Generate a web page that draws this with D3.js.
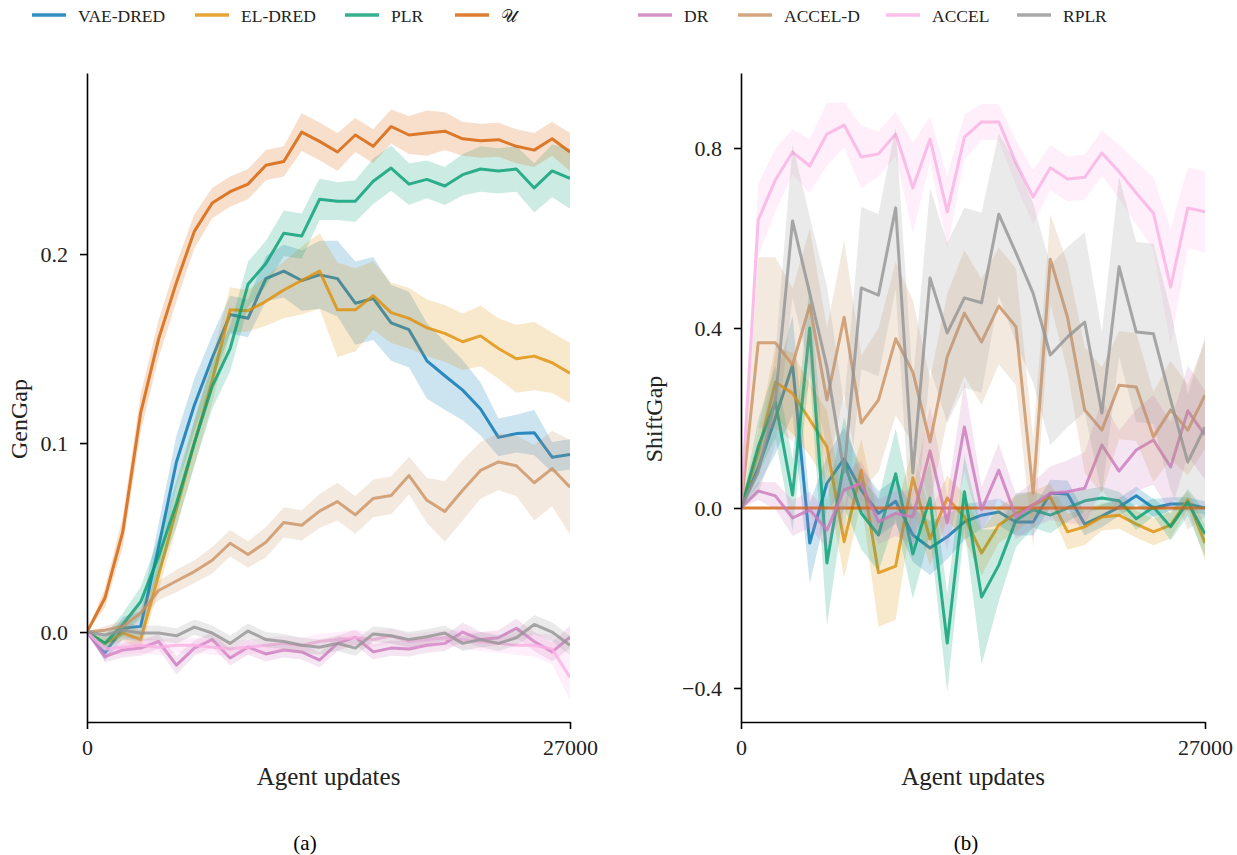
<!DOCTYPE html>
<html>
<head>
<meta charset="utf-8">
<script src="https://cdn.jsdelivr.net/npm/d3@7"></script>
<style>
  body { margin: 0; background: #fff; }
  svg { font-family: "Liberation Serif", "DejaVu Serif", serif; }
</style>
</head>
<body>
<svg id="chart" width="1237" height="855"></svg>
<script>
// agent updates (x)
const updates = [0, 1000, 2000, 3000, 4000, 5000, 6000, 7000, 8000, 9000, 10000, 11000, 12000, 13000,
  14000, 15000, 16000, 17000, 18000, 19000, 20000, 21000, 22000, 23000, 24000, 25000, 26000, 27000];

const names = ["VAE-DRED", "EL-DRED", "PLR", "𝒰", "DR", "ACCEL-D", "ACCEL", "RPLR"];
const colors = ["#0173b2", "#de8f05", "#029e73", "#d55e00", "#cc78bc", "#ca9161", "#fbafe4", "#949494"];

// ---- GenGap (a) ----
const genVAE = [0, -0.011, 0.002, 0.003, 0.045, 0.09, 0.12, 0.145, 0.168, 0.166, 0.187, 0.191, 0.186, 0.189, 0.187, 0.174, 0.1765, 0.1636, 0.160, 0.1435, 0.1356, 0.128, 0.118, 0.103, 0.105, 0.1055, 0.0925, 0.094];
const genVAEErr = [0, 0.004, 0.006, 0.008, 0.012, 0.014, 0.014, 0.012, 0.01, 0.01, 0.012, 0.014, 0.016, 0.018, 0.02, 0.022, 0.022, 0.02, 0.02, 0.02, 0.018, 0.016, 0.014, 0.01, 0.01, 0.012, 0.008, 0.008];
const genEL = [0, -0.006, -0.0005, -0.004, 0.03, 0.065, 0.10, 0.133, 0.1705, 0.170, 0.175, 0.181, 0.186, 0.191, 0.1705, 0.1705, 0.178, 0.169, 0.166, 0.161, 0.158, 0.1536, 0.1567, 0.150, 0.1446, 0.146, 0.1425, 0.137];
const genELErr = [0, 0.003, 0.004, 0.005, 0.008, 0.01, 0.012, 0.012, 0.012, 0.011, 0.013, 0.015, 0.018, 0.02, 0.025, 0.022, 0.018, 0.016, 0.016, 0.015, 0.015, 0.015, 0.016, 0.016, 0.018, 0.018, 0.016, 0.016];
const genPLR = [0, -0.006, 0.004, 0.016, 0.04, 0.068, 0.1, 0.13, 0.15, 0.184, 0.195, 0.211, 0.2095, 0.229, 0.228, 0.228, 0.2385, 0.2455, 0.237, 0.2395, 0.236, 0.242, 0.245, 0.244, 0.245, 0.235, 0.244, 0.240];
const genPLRErr = [0, 0.004, 0.006, 0.008, 0.01, 0.012, 0.012, 0.012, 0.012, 0.012, 0.012, 0.012, 0.012, 0.011, 0.01, 0.011, 0.012, 0.012, 0.011, 0.01, 0.01, 0.011, 0.012, 0.012, 0.012, 0.013, 0.014, 0.016];
const genU = [0, 0.018, 0.053, 0.116, 0.155, 0.185, 0.212, 0.227, 0.233, 0.237, 0.247, 0.249, 0.2645, 0.2596, 0.254, 0.263, 0.257, 0.2675, 0.263, 0.264, 0.265, 0.261, 0.260, 0.2605, 0.257, 0.255, 0.261, 0.254];
const genUErr = [0, 0.005, 0.008, 0.01, 0.01, 0.01, 0.009, 0.008, 0.008, 0.008, 0.008, 0.008, 0.01, 0.01, 0.01, 0.009, 0.009, 0.009, 0.01, 0.012, 0.01, 0.009, 0.009, 0.009, 0.009, 0.009, 0.009, 0.01];
const genDR = [0, -0.013, -0.0095, -0.0085, -0.005, -0.0175, -0.0085, -0.004, -0.0137, -0.008, -0.0116, -0.0095, -0.0105, -0.0148, -0.006, -0.0027, -0.0105, -0.0085, -0.009, -0.007, -0.006, 0.0, -0.004, -0.003, 0.002, -0.005, -0.0105, -0.0027];
const genDRErr = [0, 0.003, 0.004, 0.004, 0.004, 0.005, 0.004, 0.004, 0.004, 0.004, 0.004, 0.004, 0.004, 0.004, 0.004, 0.004, 0.004, 0.004, 0.004, 0.004, 0.004, 0.005, 0.004, 0.004, 0.005, 0.005, 0.005, 0.006];
const genACCELD = [0, 0.001, 0.003, 0.010, 0.022, 0.027, 0.032, 0.038, 0.047, 0.041, 0.0475, 0.058, 0.0565, 0.064, 0.069, 0.062, 0.0707, 0.0723, 0.0828, 0.0697, 0.0638, 0.075, 0.0855, 0.090, 0.088, 0.079, 0.0865, 0.0766];
const genACCELDErr = [0, 0.002, 0.003, 0.004, 0.005, 0.006, 0.006, 0.007, 0.007, 0.007, 0.008, 0.008, 0.008, 0.009, 0.01, 0.01, 0.01, 0.01, 0.01, 0.012, 0.016, 0.016, 0.015, 0.015, 0.016, 0.02, 0.02, 0.025];
const genACCEL = [0, -0.009, -0.008, -0.007, -0.008, -0.007, -0.007, -0.008, -0.009, -0.008, -0.007, -0.006, -0.007, -0.005, -0.004, -0.003, -0.004, -0.002, -0.005, -0.004, -0.003, -0.004, -0.005, -0.006, -0.007, -0.007, -0.009, -0.024];
const genACCELErr = [0, 0.003, 0.004, 0.004, 0.004, 0.004, 0.004, 0.004, 0.004, 0.004, 0.004, 0.004, 0.004, 0.004, 0.004, 0.004, 0.004, 0.004, 0.004, 0.004, 0.004, 0.005, 0.005, 0.005, 0.005, 0.006, 0.008, 0.012];
const genRPLR = [0, -0.0016, 0.001, -0.0005, -0.0005, -0.002, 0.0026, -0.0005, -0.006, 0.0005, -0.004, -0.005, -0.007, -0.008, -0.006, -0.0085, -0.001, -0.002, -0.004, -0.0025, -0.0005, -0.006, -0.004, -0.006, -0.003, 0.004, 0.0, -0.007];
const genRPLRErr = [0, 0.003, 0.004, 0.004, 0.004, 0.004, 0.004, 0.004, 0.004, 0.004, 0.004, 0.004, 0.004, 0.004, 0.004, 0.004, 0.004, 0.004, 0.004, 0.004, 0.004, 0.004, 0.004, 0.004, 0.004, 0.005, 0.005, 0.005];

// ---- ShiftGap (b) ----
const shiftVAE = [0, 0.089, 0.2, 0.318, -0.078, 0.055, 0.109, 0.04, -0.012, 0.015, -0.06, -0.089, -0.064, -0.031, -0.016, -0.009, -0.031, -0.031, 0.033, 0.031, -0.036, -0.018, 0.002, 0.027, 0.0, 0.009, 0.009, 0.0];
const shiftVAEErr = [0, 0.04, 0.08, 0.11, 0.09, 0.06, 0.07, 0.05, 0.05, 0.05, 0.06, 0.06, 0.05, 0.04, 0.03, 0.03, 0.03, 0.03, 0.03, 0.03, 0.025, 0.025, 0.02, 0.02, 0.02, 0.015, 0.015, 0.015];
const shiftEL = [0, 0.122, 0.28, 0.255, 0.196, 0.136, -0.075, 0.084, -0.144, -0.129, 0.067, -0.069, 0.022, -0.02, -0.1, -0.038, -0.012, 0.007, 0.024, -0.053, -0.042, -0.02, -0.016, -0.036, -0.053, -0.038, 0.018, -0.078];
const shiftELErr = [0, 0.05, 0.08, 0.09, 0.08, 0.08, 0.08, 0.07, 0.12, 0.12, 0.07, 0.06, 0.05, 0.05, 0.05, 0.04, 0.04, 0.03, 0.03, 0.04, 0.04, 0.03, 0.03, 0.03, 0.03, 0.03, 0.02, 0.04];
const shiftPLR = [0, 0.136, 0.236, 0.029, 0.40, -0.122, 0.102, -0.012, -0.06, 0.076, -0.102, 0.022, -0.3, 0.036, -0.198, -0.127, -0.027, -0.004, -0.016, 0.0, 0.016, 0.022, 0.016, -0.024, 0.002, -0.042, 0.013, -0.058];
const shiftPLRErr = [0, 0.06, 0.08, 0.08, 0.1, 0.14, 0.1, 0.08, 0.08, 0.1, 0.1, 0.08, 0.11, 0.08, 0.15, 0.08, 0.06, 0.04, 0.04, 0.03, 0.025, 0.025, 0.02, 0.025, 0.02, 0.03, 0.03, 0.05];
const shiftU = [0, 0, 0, 0, 0, 0, 0, 0, 0, 0, 0, 0, 0, 0, 0, 0, 0, 0, 0, 0, 0, 0, 0, 0, 0, 0, 0, 0];
const shiftUErr = [0, 0, 0, 0, 0, 0, 0, 0, 0, 0, 0, 0, 0, 0, 0, 0, 0, 0, 0, 0, 0, 0, 0, 0, 0, 0, 0, 0];
const shiftDR = [0, 0.038, 0.027, -0.022, -0.004, -0.049, 0.04, 0.055, -0.031, -0.012, -0.02, 0.127, -0.033, 0.18, -0.004, 0.084, -0.02, 0.007, 0.033, 0.036, 0.044, 0.14, 0.082, 0.129, 0.151, 0.091, 0.216, 0.162];
const shiftDRErr = [0, 0.02, 0.03, 0.04, 0.04, 0.04, 0.04, 0.05, 0.05, 0.05, 0.06, 0.1, 0.06, 0.1, 0.05, 0.06, 0.05, 0.05, 0.06, 0.07, 0.08, 0.1, 0.09, 0.09, 0.1, 0.1, 0.1, 0.1];
const shiftACCELD = [0, 0.367, 0.367, 0.318, 0.451, 0.24, 0.424, 0.189, 0.24, 0.376, 0.302, 0.147, 0.336, 0.433, 0.369, 0.449, 0.403, 0.033, 0.553, 0.424, 0.218, 0.173, 0.273, 0.269, 0.158, 0.218, 0.173, 0.251];
const shiftACCELDErr = [0, 0.19, 0.19, 0.17, 0.17, 0.16, 0.17, 0.15, 0.16, 0.17, 0.16, 0.14, 0.14, 0.14, 0.14, 0.13, 0.13, 0.12, 0.1, 0.12, 0.14, 0.14, 0.12, 0.12, 0.1, 0.11, 0.1, 0.12];
const shiftACCEL = [0, 0.64, 0.729, 0.791, 0.76, 0.831, 0.851, 0.78, 0.787, 0.831, 0.711, 0.82, 0.658, 0.824, 0.858, 0.858, 0.767, 0.691, 0.756, 0.731, 0.735, 0.789, 0.747, 0.70, 0.655, 0.491, 0.667, 0.658];
const shiftACCELErr = [0, 0.08, 0.07, 0.05, 0.06, 0.07, 0.05, 0.07, 0.05, 0.05, 0.1, 0.05, 0.08, 0.05, 0.04, 0.04, 0.05, 0.06, 0.05, 0.05, 0.05, 0.05, 0.06, 0.07, 0.08, 0.13, 0.09, 0.09];
const shiftRPLR = [0, 0.08, 0.24, 0.638, 0.477, 0.313, 0.08, 0.489, 0.473, 0.667, 0.078, 0.511, 0.389, 0.467, 0.456, 0.653, 0.567, 0.477, 0.34, 0.38, 0.413, 0.211, 0.536, 0.391, 0.387, 0.24, 0.102, 0.18];
const shiftRPLRErr = [0, 0.05, 0.1, 0.17, 0.17, 0.18, 0.15, 0.18, 0.18, 0.18, 0.2, 0.2, 0.2, 0.2, 0.2, 0.18, 0.2, 0.2, 0.2, 0.2, 0.2, 0.18, 0.2, 0.2, 0.2, 0.2, 0.15, 0.2];

const genTicks = [0, 0.1, 0.2];
const shiftTicks = [-0.4, 0, 0.4, 0.8];
const xTicks = [0, 27000];

const genSeries = [[genVAE, genVAEErr], [genEL, genELErr], [genPLR, genPLRErr], [genU, genUErr],
  [genDR, genDRErr], [genACCELD, genACCELDErr], [genACCEL, genACCELErr], [genRPLR, genRPLRErr]];
const shiftSeries = [[shiftVAE, shiftVAEErr], [shiftEL, shiftELErr], [shiftPLR, shiftPLRErr], [shiftU, shiftUErr],
  [shiftDR, shiftDRErr], [shiftACCELD, shiftACCELDErr], [shiftACCEL, shiftACCELErr], [shiftRPLR, shiftRPLRErr]];

const svg = d3.select("#chart");
const fmt = d3.format(".1f");

function panel(id, left, right, yDomain, series, yTicks, yLabel, yLabelX, caption, captionX) {
  let top = 73, bottom = 722;
  let x = d3.scaleLinear().domain([0, 27000]).range([left, right]);
  let y = d3.scaleLinear().domain(yDomain).range([bottom, top]);

  svg.append("clipPath").attr("id", "clip" + id)
    .append("rect").attr("x", left).attr("y", top).attr("width", right - left).attr("height", bottom - top);

  let g = svg.append("g").attr("clip-path", "url(#clip" + id + ")");

  let area = d3.area()
    .x(d => x(d[0]))
    .y0(d => y(d[1] - d[2]))
    .y1(d => y(d[1] + d[2]));
  let line = d3.line().x(d => x(d[0])).y(d => y(d[1]));

  series.forEach(function(s, k) {
    let pts = updates.map((u, i) => [u, s[0][i], s[1][i]]);
    g.append("path").attr("d", area(pts))
      .attr("fill", colors[k]).attr("fill-opacity", 0.2).attr("stroke", "none");
    g.append("path").attr("d", line(pts))
      .attr("fill", "none").attr("stroke", colors[k]).attr("stroke-opacity", 0.8)
      .attr("stroke-width", 3).attr("stroke-linejoin", "round");
  });

  let ya = svg.append("g").attr("transform", "translate(" + left + ",0)")
    .call(d3.axisLeft(y).tickValues(yTicks).tickFormat(fmt).tickSize(7).tickPadding(12).tickSizeOuter(0));
  let xa = svg.append("g").attr("transform", "translate(0," + bottom + ")")
    .call(d3.axisBottom(x).tickValues(xTicks).tickFormat(d3.format("d")).tickSize(7).tickPadding(10).tickSizeOuter(0));

  [ya, xa].forEach(function(a) {
    a.select(".domain").attr("stroke", "#000").attr("stroke-width", 1.6);
    a.selectAll(".tick line").attr("stroke", "#000").attr("stroke-width", 1.6);
    a.selectAll(".tick text").attr("font-family", "Liberation Serif, serif").attr("font-size", 22).attr("fill", "#222");
  });

  svg.append("text")
    .attr("x", (left + right) / 2).attr("y", 785)
    .attr("text-anchor", "middle").attr("font-size", 25).attr("fill", "#222")
    .text("Agent updates");

  svg.append("text")
    .attr("transform", "translate(" + yLabelX + ",419) rotate(-90)")
    .attr("text-anchor", "middle").attr("font-size", 24).attr("fill", "#222")
    .text(yLabel);

  svg.append("text")
    .attr("x", captionX).attr("y", 850)
    .attr("text-anchor", "middle").attr("font-size", 21).attr("fill", "#000")
    .text(caption);
}

panel("a", 87, 570, [-0.0476, 0.2958], genSeries, genTicks, "GenGap", 27, "(a)", 305);
panel("b", 741, 1205, [-0.4756, 0.9667], shiftSeries, shiftTicks, "ShiftGap", 662, "(b)", 966);

// legend
const legendX = [32, 195, 345, 455, 638, 738, 886, 1017];
const legend = svg.append("g");
names.forEach(function(n, k) {
  legend.append("line")
    .attr("x1", legendX[k]).attr("x2", legendX[k] + 34)
    .attr("y1", 15).attr("y2", 15)
    .attr("stroke", colors[k]).attr("stroke-opacity", 0.8).attr("stroke-width", 3.5);
  legend.append("text")
    .attr("x", legendX[k] + 46).attr("y", 21.5)
    .attr("font-size", 17.5).attr("fill", "#222")
    .text(n);
});
</script>
</body>
</html>
